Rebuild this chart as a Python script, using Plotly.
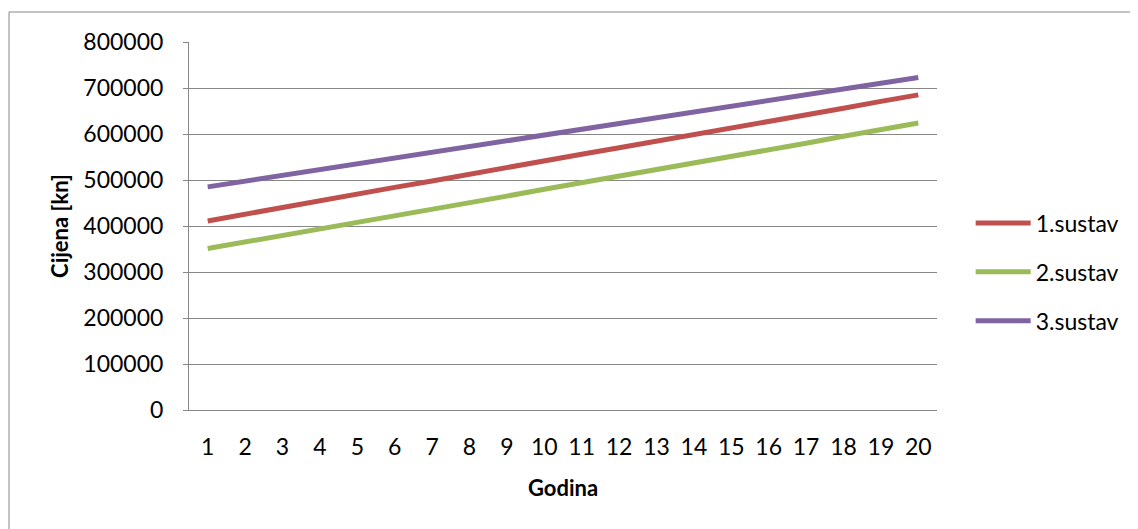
import plotly.graph_objects as go

years = list(range(1, 21))
tick_labels = [str(y) for y in years]
series_names = ["1.sustav", "2.sustav", "3.sustav"]
sustav1 = [411000, 426000, 440000, 455000, 469000, 484000, 498000, 513000, 527000, 541000,
           556000, 570000, 584000, 599000, 613000, 628000, 642000, 656000, 671000, 685000]
sustav2 = [351000, 365000, 379000, 394000, 408000, 422000, 437000, 451000, 465000, 480000,
           494000, 509000, 523000, 537000, 552000, 566000, 580000, 595000, 609000, 624000]
sustav3 = [485000, 497500, 510000, 522500, 535000, 548000, 560000, 573000, 585000, 598000,
           610000, 623000, 635000, 648000, 660000, 673000, 685000, 698000, 710000, 723000]
colors = ["#C0504D", "#9BBB59", "#8064A2"]
y_ticks = [0, 100000, 200000, 300000, 400000, 500000, 600000, 700000, 800000]

FONT = "Lato, Carlito, Calibri, sans-serif"
GRID = "#878787"

fig = go.Figure()
for i, (name, vals) in enumerate(zip(series_names, [sustav1, sustav2, sustav3])):
    fig.add_trace(go.Scatter(
        x=years, y=vals, mode="lines", name=name,
        line=dict(color=colors[i], width=5),
        legendgroup=name,
    ))

fig.update_layout(
    width=1138, height=529,
    margin=dict(l=181, r=209, t=34, b=127, autoexpand=False),
    paper_bgcolor="white", plot_bgcolor="white",
    font=dict(family=FONT, size=23, color="black"),
    showlegend=True,
    legend=dict(
        x=1.045, xanchor="left", y=0.375, yanchor="middle",
        font=dict(family=FONT, size=23, color="black"),
        tracegroupgap=16, itemwidth=55, bgcolor="rgba(0,0,0,0)",
    ),
    xaxis=dict(
        range=[0.5, 20.5], tickmode="array", tickvals=years, ticktext=tick_labels,
        showgrid=False, showline=True, linecolor=GRID, linewidth=1,
        ticks="", ticklabelstandoff=16, zeroline=False,
        tickfont=dict(family=FONT, size=23, color="black"),
        title=dict(text="<b>Godina</b>", font=dict(family=FONT, size=22, color="black"), standoff=22),
    ),
    yaxis=dict(
        range=[0, 800000], tickmode="array", tickvals=y_ticks,
        ticktext=[str(v) for v in y_ticks],
        showgrid=True, gridcolor=GRID, gridwidth=1,
        showline=True, linecolor=GRID, linewidth=1,
        ticks="outside", ticklen=5, tickcolor=GRID, ticklabelstandoff=15,
        zeroline=False,
        tickfont=dict(family=FONT, size=23, color="black"),
        title=dict(text="<b>Cijena [kn]</b>", font=dict(family=FONT, size=22, color="black"), standoff=8),
    ),
    shapes=[dict(type="rect", xref="paper", yref="paper",
                 x0=-0.2406, x1=1.6, y0=-0.6, y1=1.0815,
                 line=dict(color=GRID, width=1), fillcolor="rgba(0,0,0,0)", layer="below")],
)

fig.write_html("out.html")
